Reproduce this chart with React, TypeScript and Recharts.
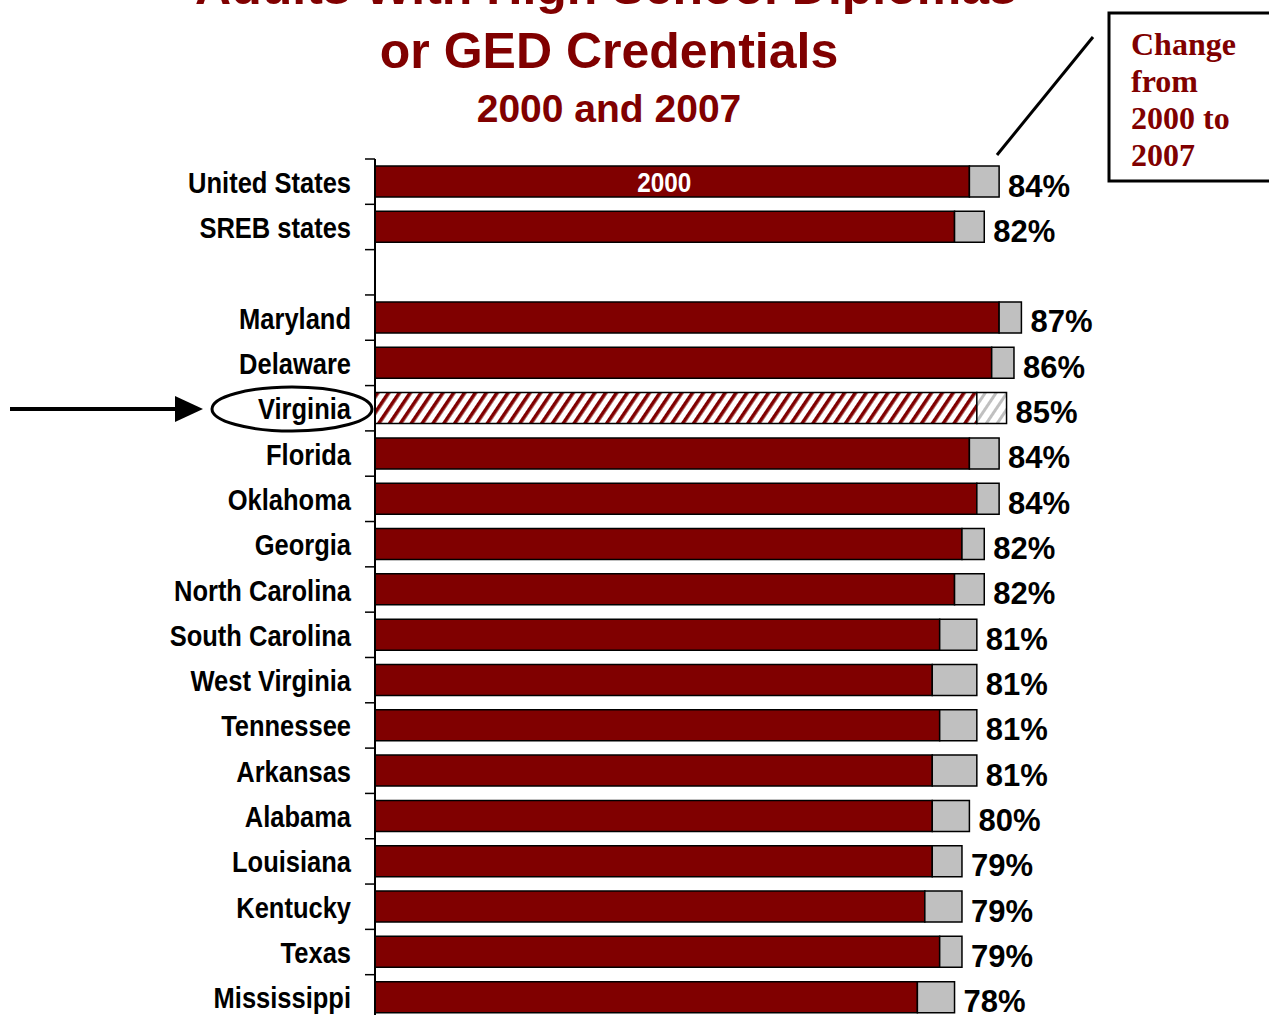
import { BarChart, Bar, XAxis, YAxis, Cell, LabelList } from "recharts";

const states = [
  "United States",
  "SREB states",
  "",
  "Maryland",
  "Delaware",
  "Virginia",
  "Florida",
  "Oklahoma",
  "Georgia",
  "North Carolina",
  "South Carolina",
  "West Virginia",
  "Tennessee",
  "Arkansas",
  "Alabama",
  "Louisiana",
  "Kentucky",
  "Texas",
  "Mississippi",
];
const pct2000 = [80, 78, null, 84, 83, 81, 80, 81, 79, 78, 76, 75, 76, 75, 75, 75, 74, 76, 73];
const pct2007 = [84, 82, null, 87, 86, 85, 84, 84, 82, 82, 81, 81, 81, 81, 80, 79, 79, 79, 78];
const highlight = "Virginia";

const data = states.map((name, i) => ({
  name,
  base: pct2000[i],
  change: pct2000[i] == null ? null : (pct2007[i] as number) - (pct2000[i] as number),
  total: pct2007[i],
}));

const RED = "#800000";
const GRAY = "#c0c0c0";
const W = 1269;
const H = 1030;
const TOP = 159;
const BOTTOM = 1020;
const AXIS_X = 375;
const PLOT_W = 743;
const BAND = (BOTTOM - TOP) / states.length;
const SANS = "'Liberation Sans', Arial, sans-serif";

// no Arial Narrow here, so squeeze Liberation Sans Bold sideways
const StateTick = (props: any) => {
  const { y, payload, index } = props;
  const edge = y - BAND / 2;
  return (
    <g>
      <line x1={AXIS_X - 10} x2={AXIS_X} y1={edge} y2={edge} stroke="#000" strokeWidth={1.5} />
      {index === states.length - 1 && (
        <line x1={AXIS_X - 10} x2={AXIS_X} y1={y + BAND / 2} y2={y + BAND / 2} stroke="#000" strokeWidth={1.5} />
      )}
      <text
        transform={`translate(351, ${y + 11}) scale(0.85, 1)`}
        textAnchor="end"
        fontFamily={SANS}
        fontWeight="bold"
        fontSize={30}
        fill="#000"
      >
        {payload.value}
      </text>
    </g>
  );
};

const TotalLabel = (props: any) => {
  const { x, y, width, height, value } = props;
  if (value == null) return null;
  return (
    <text x={x + width + 9} y={y + height / 2 + 15} fontFamily={SANS} fontWeight="bold" fontSize={31} fill="#000">
      {value}%
    </text>
  );
};

const YearLabel = (props: any) => {
  const { x, y, width, height, value } = props;
  if (value !== "United States") return null;
  return (
    <text
      transform={`translate(${x + width / 2 - 8}, ${y + height / 2 + 10}) scale(0.9, 1)`}
      textAnchor="middle"
      fontFamily={SANS}
      fontWeight="bold"
      fontSize={27}
      fill="#fff"
    >
      2000
    </text>
  );
};

const Annotations = () => (
  <svg width={W} height={H} style={{ position: "absolute", left: 0, top: 0, pointerEvents: "none" }}>
    <g fontFamily={SANS} fontWeight="bold" fill={RED} textAnchor="middle">
      <text x={606} y={4} fontSize={50}>Adults With High School Diplomas</text>
      <text x={609} y={68} fontSize={50}>or GED Credentials</text>
      <text x={609} y={122} fontSize={39}>2000 and 2007</text>
    </g>
    <rect x={1109} y={13} width={200} height={168} fill="#fff" stroke="#000" strokeWidth={3} />
    <g fontFamily="'Liberation Serif', 'Times New Roman', serif" fontWeight="bold" fontSize={32} fill={RED}>
      <text x={1131} y={55}>Change</text>
      <text x={1131} y={92}>from</text>
      <text x={1131} y={129}>2000 to</text>
      <text x={1131} y={166}>2007</text>
    </g>
    <line x1={1093} y1={37} x2={997} y2={155} stroke="#000" strokeWidth={3} />
    <line x1={10} y1={409} x2={178} y2={409} stroke="#000" strokeWidth={4} />
    <polygon points="175,396 203,409 175,422" fill="#000" />
    <ellipse cx={292} cy={409} rx={80} ry={22} fill="none" stroke="#000" strokeWidth={3} />
  </svg>
);

const App = () => {
  return (
    <div style={{ position: "absolute", left: 0, top: 0, width: W, height: 1015, overflow: "hidden", background: "#fff" }}>
      <BarChart
        width={W}
        height={H}
        data={data}
        layout="vertical"
        margin={{ top: TOP, right: W - AXIS_X - PLOT_W, bottom: H - BOTTOM, left: 0 }}
        barSize={31}
      >
        <defs>
          <pattern id="hatchRed" patternUnits="userSpaceOnUse" width={9} height={9} patternTransform="rotate(34)">
            <rect width={9} height={9} fill="#fff" />
            <rect width={3.6} height={9} fill={RED} />
          </pattern>
          <pattern id="hatchGray" patternUnits="userSpaceOnUse" width={9} height={9} patternTransform="rotate(34)">
            <rect width={9} height={9} fill="#fff" />
            <rect width={3} height={9} fill={GRAY} />
          </pattern>
        </defs>
        <XAxis type="number" domain={[0, 100]} hide />
        <YAxis
          type="category"
          dataKey="name"
          width={AXIS_X}
          interval={0}
          tickLine={false}
          axisLine={{ stroke: "#000", strokeWidth: 2 }}
          tick={<StateTick />}
        />
        <Bar dataKey="base" stackId="a" fill={RED} stroke="#000" strokeWidth={1.5} isAnimationActive={false}>
          {data.map((d) => (
            <Cell key={d.name || "gap"} fill={d.name === highlight ? "url(#hatchRed)" : RED} />
          ))}
          <LabelList dataKey="name" content={<YearLabel />} />
        </Bar>
        <Bar dataKey="change" stackId="a" fill={GRAY} stroke="#000" strokeWidth={1.5} isAnimationActive={false}>
          {data.map((d) => (
            <Cell key={d.name || "gap"} fill={d.name === highlight ? "url(#hatchGray)" : GRAY} />
          ))}
          <LabelList dataKey="total" content={<TotalLabel />} />
        </Bar>
      </BarChart>
      <Annotations />
    </div>
  );
};

export default App;
